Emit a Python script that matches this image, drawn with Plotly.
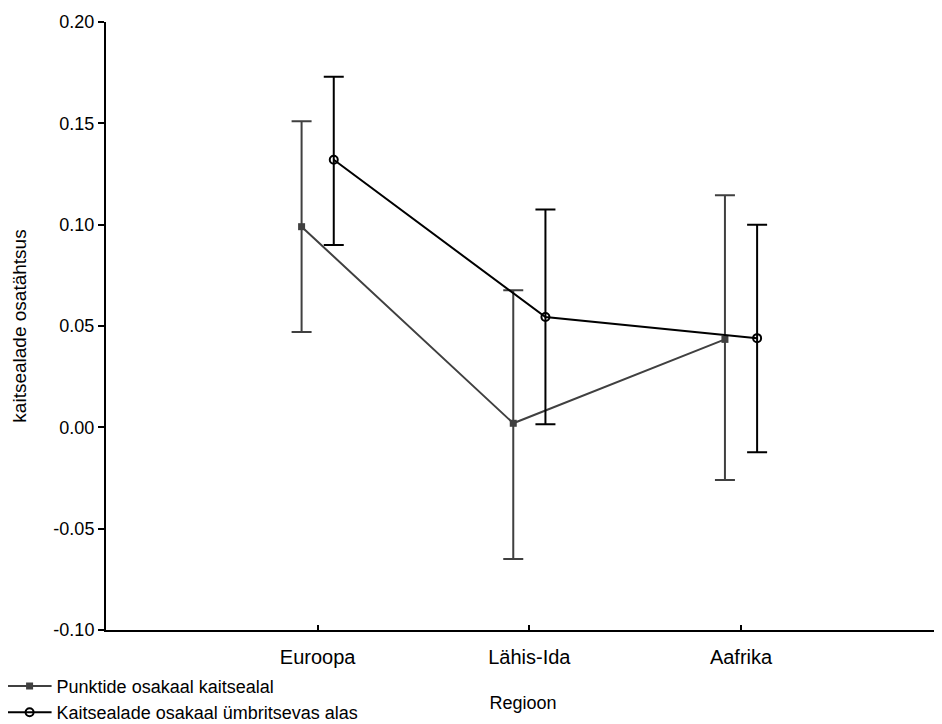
import plotly.graph_objects as go

categories = ["Euroopa", "Lähis-Ida", "Aafrika"]
cat_pos = [1, 2, 3]

series1_name = "Punktide osakaal kaitsealal"
series1_mean = [0.099, 0.002, 0.0434]
series1_upper = [0.151, 0.0676, 0.1145]
series1_lower = [0.047, -0.065, -0.026]

series2_name = "Kaitsealade osakaal ümbritsevas alas"
series2_mean = [0.132, 0.0544, 0.044]
series2_upper = [0.173, 0.1075, 0.100]
series2_lower = [0.090, 0.0015, -0.0123]

y_ticks = [-0.10, -0.05, 0.00, 0.05, 0.10, 0.15, 0.20]

offset = 0.076
x1 = [p - offset for p in cat_pos]
x2 = [p + offset for p in cat_pos]

fig = go.Figure()
fig.add_trace(go.Scatter(
    x=x1, y=series1_mean, name=series1_name, mode="lines+markers",
    line=dict(color="#404040", width=2),
    marker=dict(symbol="square", size=7, color="#404040"),
    error_y=dict(type="data", symmetric=False,
                 array=[u - m for u, m in zip(series1_upper, series1_mean)],
                 arrayminus=[m - l for m, l in zip(series1_mean, series1_lower)],
                 color="#404040", thickness=2, width=10),
))
fig.add_trace(go.Scatter(
    x=x2, y=series2_mean, name=series2_name, mode="lines+markers",
    line=dict(color="#000000", width=2),
    marker=dict(symbol="circle-open", size=8, color="#000000", line=dict(width=2)),
    error_y=dict(type="data", symmetric=False,
                 array=[u - m for u, m in zip(series2_upper, series2_mean)],
                 arrayminus=[m - l for m, l in zip(series2_mean, series2_lower)],
                 color="#000000", thickness=2, width=10),
))

fig.update_layout(
    width=934, height=716,
    margin=dict(l=98, r=2, t=14, b=94, autoexpand=False),
    paper_bgcolor="white", plot_bgcolor="white",
    font=dict(family="Liberation Sans, Arial, sans-serif", color="#000000"),
    showlegend=True,
    legend=dict(x=-0.124, y=-0.062, xanchor="left", yanchor="top",
                font=dict(size=18), tracegroupgap=0, itemwidth=44,
                bgcolor="rgba(0,0,0,0)"),
)
fig.update_xaxes(
    range=[0, 3.94], tickvals=cat_pos, ticktext=categories,
    showline=True, linecolor="black", linewidth=2, mirror=False,
    ticks="inside", ticklen=5, tickwidth=2, tickcolor="black",
    showgrid=False, zeroline=False, tickfont=dict(size=20),
    ticklabelstandoff=8,
    title=dict(text="Regioon", font=dict(size=18), standoff=29),
)
fig.update_yaxes(
    range=[-0.10, 0.20], tickvals=y_ticks,
    ticktext=[f"{v:.2f}" for v in y_ticks],
    showline=True, linecolor="black", linewidth=2,
    ticks="outside", ticklen=6, tickwidth=2, tickcolor="black",
    showgrid=False, zeroline=False, tickfont=dict(size=18),
    title=dict(text="kaitsealade osatähtsus", font=dict(size=19), standoff=22),
)

fig.write_html("out.html")
